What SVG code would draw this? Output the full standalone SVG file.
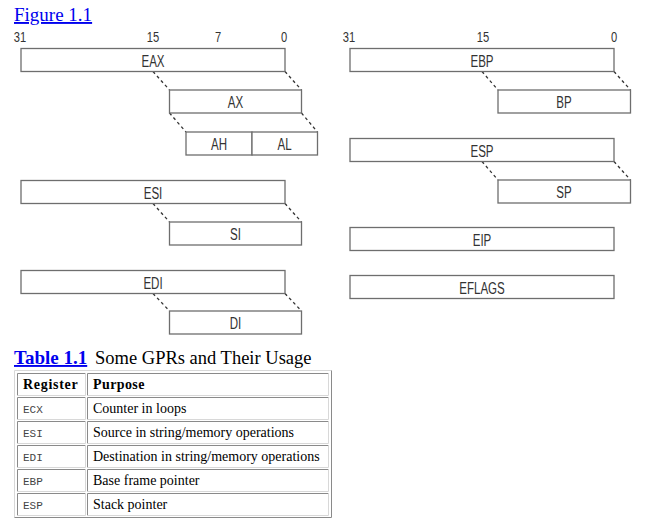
<svg xmlns="http://www.w3.org/2000/svg" width="659" height="526" viewBox="0 0 659 526">
<style>
.box{fill:#fff;stroke:#6e6e6e;stroke-width:1.3}
.lbl{font-family:"Liberation Sans",Arial,sans-serif;font-size:17px;fill:#333;text-anchor:middle}
.num{font-family:"Liberation Sans",Arial,sans-serif;font-size:15.5px;fill:#333;text-anchor:middle}
.dash{stroke:#333;stroke-width:1.3;stroke-dasharray:3 3;fill:none}
.link{font-family:"Liberation Serif","Times New Roman",serif;fill:#0000ee;text-decoration:underline}
.ser{font-family:"Liberation Serif","Times New Roman",serif;fill:#000}
.mono{font-family:"Liberation Mono","Courier New",monospace;font-size:11px;fill:#444}
.cellA{fill:none;stroke:#8a8a8a;stroke-width:1}
.cellB{fill:none;stroke:#d8d8d8;stroke-width:1}
</style>
<rect width="659" height="526" fill="#fff"/>
<text class="link" x="14" y="21" font-size="19">Figure 1.1</text>
<g id="bits-left">
<text class="num" transform="translate(20 42) scale(0.72 1)">31</text>
<text class="num" transform="translate(153 42) scale(0.72 1)">15</text>
<text class="num" transform="translate(218 42) scale(0.72 1)">7</text>
<text class="num" transform="translate(284 42) scale(0.72 1)">0</text>
</g>
<g id="bits-right">
<text class="num" transform="translate(349 42) scale(0.72 1)">31</text>
<text class="num" transform="translate(483 42) scale(0.72 1)">15</text>
<text class="num" transform="translate(614 42) scale(0.72 1)">0</text>
</g>
<g id="connectors">
<line class="dash" x1="153" y1="71.5" x2="169.5" y2="90"/>
<line class="dash" x1="285" y1="71.5" x2="301.5" y2="90"/>
<line class="dash" x1="169.5" y1="113" x2="186" y2="132"/>
<line class="dash" x1="301.5" y1="113" x2="317.5" y2="132"/>
<line class="dash" x1="153" y1="203.5" x2="169.5" y2="222"/>
<line class="dash" x1="285" y1="203.5" x2="301.5" y2="222"/>
<line class="dash" x1="153" y1="293.5" x2="169.5" y2="311"/>
<line class="dash" x1="285" y1="293.5" x2="301.5" y2="311"/>
<line class="dash" x1="482" y1="71.5" x2="498" y2="90"/>
<line class="dash" x1="614" y1="71.5" x2="630.5" y2="90"/>
<line class="dash" x1="482" y1="161.5" x2="498" y2="180"/>
<line class="dash" x1="614" y1="161.5" x2="630.5" y2="180"/>
</g>
<g id="EAX"><rect class="box" x="21" y="48.5" width="264" height="23"/><text class="lbl" transform="translate(153 66.5) scale(0.68 1)">EAX</text></g>
<g id="AX"><rect class="box" x="169.5" y="90" width="132" height="23"/><text class="lbl" transform="translate(235.5 108) scale(0.68 1)">AX</text></g>
<g id="AH"><rect class="box" x="186" y="132" width="66" height="23"/><text class="lbl" transform="translate(219 150) scale(0.68 1)">AH</text></g>
<g id="AL"><rect class="box" x="252" y="132" width="65.5" height="23"/><text class="lbl" transform="translate(284.5 150) scale(0.68 1)">AL</text></g>
<g id="ESI"><rect class="box" x="21" y="180.5" width="264" height="23"/><text class="lbl" transform="translate(153 198.5) scale(0.68 1)">ESI</text></g>
<g id="SI"><rect class="box" x="169.5" y="222" width="132" height="23"/><text class="lbl" transform="translate(235.5 240) scale(0.68 1)">SI</text></g>
<g id="EDI"><rect class="box" x="21" y="270.5" width="264" height="23"/><text class="lbl" transform="translate(153 288.5) scale(0.68 1)">EDI</text></g>
<g id="DI"><rect class="box" x="169.5" y="311" width="132" height="23"/><text class="lbl" transform="translate(235.5 329) scale(0.68 1)">DI</text></g>
<g id="EBP"><rect class="box" x="350" y="48.5" width="264" height="23"/><text class="lbl" transform="translate(482 66.5) scale(0.68 1)">EBP</text></g>
<g id="BP"><rect class="box" x="498" y="90" width="132.5" height="23"/><text class="lbl" transform="translate(564 108) scale(0.68 1)">BP</text></g>
<g id="ESP"><rect class="box" x="350" y="138.5" width="264" height="23"/><text class="lbl" transform="translate(482 156.5) scale(0.68 1)">ESP</text></g>
<g id="SP"><rect class="box" x="498" y="180" width="132.5" height="23"/><text class="lbl" transform="translate(564 198) scale(0.68 1)">SP</text></g>
<g id="EIP"><rect class="box" x="350" y="227.5" width="264" height="23"/><text class="lbl" transform="translate(482 245.5) scale(0.68 1)">EIP</text></g>
<g id="EFLAGS"><rect class="box" x="350" y="275.5" width="264" height="23"/><text class="lbl" transform="translate(482 293.5) scale(0.68 1)">EFLAGS</text></g>
<g id="table-title">
<text class="link" x="14" y="364" font-size="19" font-weight="bold">Table 1.1</text>
<text class="ser" x="95" y="364" font-size="18.5">Some GPRs and Their Usage</text>
</g>
<g id="table">
<path d="M14.5 517.5 V370.5 H331.5" class="cellB"/>
<path d="M14.5 517.5 H331.5 V370.5" class="cellA"/>
<g id="cells">
<path class="cellA" d="M17.5 395.5 V373.5 H85.5"/><path class="cellB" d="M17.5 395.5 H85.5 V373.5"/>
<path class="cellA" d="M87.5 395.5 V373.5 H328.5"/><path class="cellB" d="M87.5 395.5 H328.5 V373.5"/>
<path class="cellA" d="M17.5 419.5 V397.5 H85.5"/><path class="cellB" d="M17.5 419.5 H85.5 V397.5"/>
<path class="cellA" d="M87.5 419.5 V397.5 H328.5"/><path class="cellB" d="M87.5 419.5 H328.5 V397.5"/>
<path class="cellA" d="M17.5 443.5 V421.5 H85.5"/><path class="cellB" d="M17.5 443.5 H85.5 V421.5"/>
<path class="cellA" d="M87.5 443.5 V421.5 H328.5"/><path class="cellB" d="M87.5 443.5 H328.5 V421.5"/>
<path class="cellA" d="M17.5 467.5 V445.5 H85.5"/><path class="cellB" d="M17.5 467.5 H85.5 V445.5"/>
<path class="cellA" d="M87.5 467.5 V445.5 H328.5"/><path class="cellB" d="M87.5 467.5 H328.5 V445.5"/>
<path class="cellA" d="M17.5 491.5 V469.5 H85.5"/><path class="cellB" d="M17.5 491.5 H85.5 V469.5"/>
<path class="cellA" d="M87.5 491.5 V469.5 H328.5"/><path class="cellB" d="M87.5 491.5 H328.5 V469.5"/>
<path class="cellA" d="M17.5 515.5 V493.5 H85.5"/><path class="cellB" d="M17.5 515.5 H85.5 V493.5"/>
<path class="cellA" d="M87.5 515.5 V493.5 H328.5"/><path class="cellB" d="M87.5 515.5 H328.5 V493.5"/>
</g>
<text class="ser" x="23" y="389" font-size="14" font-weight="bold" letter-spacing="0.7">Register</text>
<text class="ser" x="93" y="389" font-size="14" font-weight="bold" letter-spacing="0.4">Purpose</text>
<text class="mono" x="23" y="413">ECX</text>
<text class="ser" x="93" y="413" font-size="14">Counter in loops</text>
<text class="mono" x="23" y="437">ESI</text>
<text class="ser" x="93" y="437" font-size="14">Source in string/memory operations</text>
<text class="mono" x="23" y="461">EDI</text>
<text class="ser" x="93" y="461" font-size="14">Destination in string/memory operations</text>
<text class="mono" x="23" y="485">EBP</text>
<text class="ser" x="93" y="485" font-size="14">Base frame pointer</text>
<text class="mono" x="23" y="509">ESP</text>
<text class="ser" x="93" y="509" font-size="14">Stack pointer</text>
</g>
</svg>
